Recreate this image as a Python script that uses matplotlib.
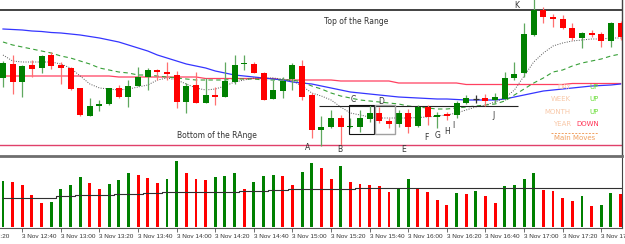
import matplotlib
matplotlib.use("Agg")
import matplotlib.pyplot as plt
import pandas as pd

# 5-minute bars, 3 Nov 12:30 .. 17:50
times = pd.date_range("2009-11-03 12:30", periods=65, freq="5min")

opens = [82, 96, 78, 95, 92, 105, 95, 92, 72, 44, 54, 56, 72, 63, 74, 83, 90, 88, 85, 58,
         75, 57, 65, 63, 78, 96, 96, 87, 61, 69, 81, 94, 65, 30, 33, 42, 33, 33, 41, 47,
         39, 36, 47, 34, 53, 43, 46, 45, 57, 61, 62, 60, 61, 82, 87, 125, 150, 143, 141, 132,
         122, 127, 126, 119, 137]
highs = [99, 105, 95, 100, 105, 108, 98, 93, 72, 62, 60, 72, 75, 80, 93, 92, 91, 98, 89, 77,
         88, 82, 73, 98, 105, 105, 98, 88, 80, 83, 97, 100, 67, 44, 50, 45, 42, 50, 55, 53,
         42, 50, 51, 55, 55, 48, 48, 59, 65, 65, 66, 67, 88, 98, 137, 161, 153, 146, 145, 137,
         128, 130, 128, 138, 139]
lows = [73, 66, 63, 83, 87, 91, 76, 70, 44, 44, 49, 55, 62, 53, 74, 70, 80, 80, 52, 47,
        57, 57, 55, 63, 76, 90, 87, 60, 61, 62, 70, 60, 22, 14, 32, 15, 32, 28, 38, 37,
        32, 33, 27, 33, 35, 32, 40, 42, 56, 57, 54, 57, 60, 80, 83, 124, 137, 133, 131, 120,
        112, 123, 113, 113, 120]
closes = [97, 78, 94, 91, 104, 94, 92, 71, 45, 54, 56, 72, 63, 74, 83, 90, 88, 86, 58, 74,
          57, 65, 63, 79, 95, 97, 87, 60, 70, 79, 95, 63, 30, 33, 42, 33, 34, 42, 47, 39,
          36, 47, 33, 53, 43, 45, 44, 57, 62, 61, 59, 63, 82, 86, 126, 150, 143, 141, 132, 122,
          127, 125, 119, 137, 123]

ma_fast = [105, 99, 98, 98, 98, 98, 96, 92, 84, 76, 72, 71, 70, 71, 73, 75, 80, 82, 80, 76,
           72, 70, 71, 74, 78, 80, 82, 82, 82, 81, 79, 74, 67, 64, 60, 53, 47, 45, 43, 42,
           42, 42, 42, 42.5, 43, 44, 45, 47, 50, 53, 55, 58, 62, 70, 84, 98, 107, 114, 117, 119,
           120, 121, 121, 122, 122]
ma_mid = [118, 115, 113, 111, 109, 107, 104, 102, 99, 96, 92, 90, 88, 87, 85, 85, 84, 83, 82, 81,
          80, 80, 80, 80, 81, 81, 81, 80, 80, 80, 80, 78, 74, 71, 67, 64, 62, 60, 59, 58,
          57, 56, 54, 53, 52, 51, 51, 52, 53, 54, 55, 56, 59, 65, 71, 77, 82, 88, 90, 94,
          97, 99, 101, 104, 106]
ma_slow = [131, 130.5, 130, 129, 128.5, 127.5, 127, 126, 125, 123.5, 122, 120, 118, 115, 112, 109,
           105, 102, 99, 96, 94, 92, 89, 87, 85, 84, 83, 82, 81, 80, 78, 77, 76, 74, 72, 70,
           68, 67, 66, 65, 64, 63, 62.5, 62, 61.5, 61, 61, 60.5, 60, 60, 60, 60, 61, 63, 65, 67,
           69, 70, 71, 72, 73, 74, 74.5, 75, 76]
ma_htf = [84] * 12 + [83] * 9 + [81.5] * 8 + [80] * 6 + [79] * 6 + [77] * 7 + [75.5] * 11 + [76.5] * 6

volume = [46, 45, 42, 32, 24, 25, 38, 42, 50, 44, 38, 43, 47, 54, 52, 49, 44, 48, 66, 54,
          48, 47, 50, 51, 54, 38, 45, 51, 52, 51, 42, 55, 64, 59, 48, 61, 45, 43, 42, 41,
          35, 39, 48, 39, 35, 27, 22, 34, 33, 36, 31, 24, 41, 42, 48, 54, 37, 36, 29, 26,
          31, 21, 22, 34, 33]
vol_ma = [29.3] * 6 + [31] * 2 + [31.7] * 4 + [32.7] * 3 + [33.7] * 2 + [34.7] * 3 + [35.5] * 5 \
    + [36.3] * 3 + [37.3] * 2 + [38] * 7 + [39.5] * 10 + [38.7] * 18

range_top = 150
range_bottom = 15
breakout_level = 54
points = {"A": (31.6, 13), "B": (34.9, 10), "C": (36.3, 60), "D": (39.2, 59), "E": (41.5, 11),
          "F": (43.9, 22), "G": (45.0, 24), "H": (46.0, 29), "I": (46.7, 34), "J": (50.8, 45),
          "K": (53.2, 154)}
moves = [("DAY", "UP"), ("WEEK", "UP"), ("MONTH", "UP"), ("YEAR", "DOWN")]

BULL = "#008000"
BEAR = "#ff0000"

fig = plt.figure(figsize=(6.25, 2.44), dpi=100)
ax = fig.add_axes([0, 88 / 244, 622 / 625, 156 / 244])
axv = fig.add_axes([0, 16 / 244, 622 / 625, 70 / 244])

x = list(range(len(opens)))

# candles
for i in x:
    o, h, l, c = opens[i], highs[i], lows[i], closes[i]
    if c > o:
        col, wcol = BULL, "#5fa85f"
    elif c < o:
        col, wcol = BEAR, "#ff7070"
    else:
        col, wcol = "#333333", "#333333"
    ax.vlines(i, l, h, colors=wcol, lw=0.9, zorder=3)
    if c == o:
        ax.hlines(o, i - 0.3, i + 0.3, colors=col, lw=0.9, zorder=4)
    else:
        ax.bar(i, max(abs(c - o), 1.2), bottom=min(o, c), width=0.62, color=col, zorder=4)

ax.plot(x, ma_htf, color="#ff4060", lw=0.9, zorder=2)
ax.plot(x, ma_slow, color="#3535ff", lw=0.9, zorder=2)
ax.plot(x, ma_mid, color="#38a038", lw=0.8, dashes=(4, 3), zorder=2)
ax.plot(x, ma_fast, color="#555555", lw=0.7, dashes=(1, 1.5), zorder=2)

ax.axhline(range_top, color="#333333", lw=1.3, zorder=2)
ax.axhline(range_bottom, color="#e0406a", lw=1.0, zorder=2)
ax.hlines(breakout_level, 32.8, 53.4, colors="#222222", lw=0.8, zorder=2)
ax.add_patch(plt.Rectangle((35.85, 26), 2.6, 29, fill=False, ec="#111111", lw=0.8, zorder=5))
ax.add_patch(plt.Rectangle((38.55, 26), 2.05, 29, fill=False, ec="#a0a0a0", lw=1.0, zorder=5))

ax.text(36.6, 138.5, "Top of the Range", fontsize=5.5, color="#333333", ha="center", va="center")
ax.text(22.2, 25, "Bottom of the RAnge", fontsize=5.5, color="#333333", ha="center", va="center")
for name, (px, py) in points.items():
    ax.text(px, py, name, fontsize=5.5, color="#333333", ha="center", va="center", zorder=6)

# main moves panel
for k, (lab, val) in enumerate(moves):
    yy = 0.442 - k * 0.079
    ax.text(0.918, yy, lab, transform=ax.transAxes, fontsize=5, color="#f8c8a8",
            ha="right", va="center", zorder=6)
    ax.text(0.963, yy, val, transform=ax.transAxes, fontsize=5,
            color="#66dd33" if val == "UP" else "#ff3355", ha="right", va="center", zorder=6)
ax.plot([0.886, 0.961], [0.147, 0.147], transform=ax.transAxes, color="#f0a060",
        lw=0.7, dashes=(2, 1.5))
ax.text(0.924, 0.115, "Main Moves", transform=ax.transAxes, fontsize=5, color="#f0a060",
        ha="center", va="center")

ax.set_xlim(-0.31, 64.15)
ax.set_ylim(4, 160)
ax.set_xticks([])
ax.set_yticks([])
for s in ("top", "left"):
    ax.spines[s].set_visible(False)
ax.spines["bottom"].set_color("#6e6e6e")
ax.spines["bottom"].set_linewidth(2)
ax.spines["right"].set_color("#444444")
ax.spines["right"].set_linewidth(1)

# volumes
vcols = [BULL] + [BULL if volume[i] > volume[i - 1] else BEAR for i in x[1:]]
axv.bar(x, volume, width=0.3, color=vcols, zorder=2)
axv.plot(x, vol_ma, color="#303030", lw=0.8, drawstyle="steps-mid", zorder=3)
axv.set_yticks([])
for s in ("top", "left"):
    axv.spines[s].set_visible(False)
axv.spines["bottom"].set_color("#555555")
axv.spines["right"].set_color("#444444")

tick_pos = [i for i in x if times[i].minute % 20 == 0]
tick_lab = [times[i].strftime("3 Nov %H:%M") for i in x if times[i].minute % 20 == 0]
axv.set_xticks(tick_pos)
axv.set_xticklabels(tick_lab, fontsize=4.6, color="#333333", family="Liberation Sans")
for t in axv.get_xticklabels():
    t.set_horizontalalignment("left")
axv.tick_params(axis="x", length=3, width=0.6, color="#555555", pad=1)
# label of the 12:20 bar, which sits left of the window
axv.annotate("3 Nov 12:20", xy=(-2.9, 0), xycoords=("data", "axes fraction"),
             xytext=(0, -4), textcoords="offset points", ha="left", va="top",
             fontsize=4.6, color="#333333", family="Liberation Sans", annotation_clip=False)
axv.set_xlim(-0.31, 64.15)
axv.set_ylim(-1, 69)

fig.savefig("out.png", dpi=100, facecolor="white")
